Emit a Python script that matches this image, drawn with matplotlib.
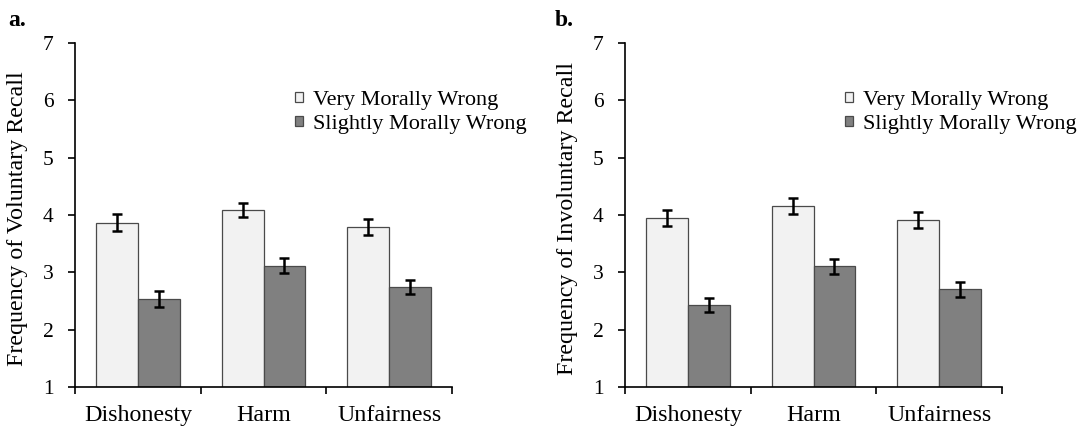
import matplotlib
matplotlib.use("Agg")
import matplotlib.pyplot as plt
import numpy as np

categories = ["Dishonesty", "Harm", "Unfairness"]
series_names = ["Very Morally Wrong", "Slightly Morally Wrong"]

vol_very = [3.866, 4.087, 3.791]
vol_very_err = [0.143, 0.127, 0.142]
vol_slight = [2.537, 3.118, 2.741]
vol_slight_err = [0.134, 0.13, 0.122]

inv_very = [3.948, 4.157, 3.913]
inv_very_err = [0.145, 0.136, 0.136]
inv_slight = [2.438, 3.107, 2.706]
inv_slight_err = [0.122, 0.13, 0.133]

panel_labels = ["a.", "b."]
ylabels = ["Frequency of Voluntary Recall", "Frequency of Involuntary Recall"]
yticks = [1, 2, 3, 4, 5, 6, 7]

plt.rcParams['font.family'] = ['Liberation Serif', 'DejaVu Serif']

W, H = 1086, 432
fig = plt.figure(figsize=(W/100, H/100), dpi=100)
ax_bottom, ax_top = 387.3, 42.7
lefts = [75, 625]
axw = 377
label_pos = [(8, 26), (555, 26)]
data = [
    (vol_very, vol_very_err, vol_slight, vol_slight_err),
    (inv_very, inv_very_err, inv_slight, inv_slight_err),
]

light = "#f2f2f2"
dark = "#808080"
edge = "#4a4a4a"
w = 0.332

for i in range(2):
    ax = fig.add_axes([lefts[i]/W, 1-ax_bottom/H, axw/W, (ax_bottom-ax_top)/H])
    vv, ve, sv, se = data[i]
    x = np.arange(len(categories))
    ax.bar(x - w/2, np.array(vv) - 1, width=w, bottom=1, color=light,
           edgecolor=edge, linewidth=0.9, label=series_names[0], zorder=2)
    ax.bar(x + w/2, np.array(sv) - 1, width=w, bottom=1, color=dark,
           edgecolor=edge, linewidth=0.9, label=series_names[1], zorder=2)
    ax.errorbar(x - w/2, vv, yerr=ve, fmt='none', ecolor='black',
                elinewidth=1.8, capsize=3.5, capthick=1.8, zorder=3)
    ax.errorbar(x + w/2, sv, yerr=se, fmt='none', ecolor='black',
                elinewidth=1.8, capsize=3.5, capthick=1.8, zorder=3)
    ax.set_xlim(-0.5, 2.5)
    ax.set_ylim(1, 7)
    ax.set_yticks(yticks)
    ax.set_yticklabels([str(t) for t in yticks], fontsize=15.5)
    ax.set_xticks(x)
    ax.set_xticklabels(categories, fontsize=17.3)
    ax.set_xticks([-0.5, 0.5, 1.5, 2.5], minor=True)
    ax.tick_params(axis='x', which='major', length=0, pad=13)
    ax.tick_params(axis='x', which='minor', length=5, width=1.2, direction='out', color='black')
    ax.tick_params(axis='y', length=5, width=1.2, direction='out', pad=10.5)
    for s in ['top', 'right']:
        ax.spines[s].set_visible(False)
    for s in ['left', 'bottom']:
        ax.spines[s].set_linewidth(1.2)
        ax.spines[s].set_color('black')
    ax.set_ylabel(ylabels[i], fontsize=17.3)
    ax.yaxis.set_label_coords(-0.125, 0.49)
    leg = ax.legend(loc='upper left', bbox_to_anchor=(0.5836, 0.86), frameon=False,
                    fontsize=16, handlelength=0.36, handleheight=0.36,
                    handletextpad=0.45, labelspacing=0.22, borderpad=0, borderaxespad=0)
    for p in leg.get_patches():
        p.set_linewidth(0.9)
    fig.text(label_pos[i][0]/W, 1-label_pos[i][1]/H, panel_labels[i], fontsize=17,
             fontweight='bold', va='baseline', ha='left')

fig.savefig("out.png", dpi=100)
